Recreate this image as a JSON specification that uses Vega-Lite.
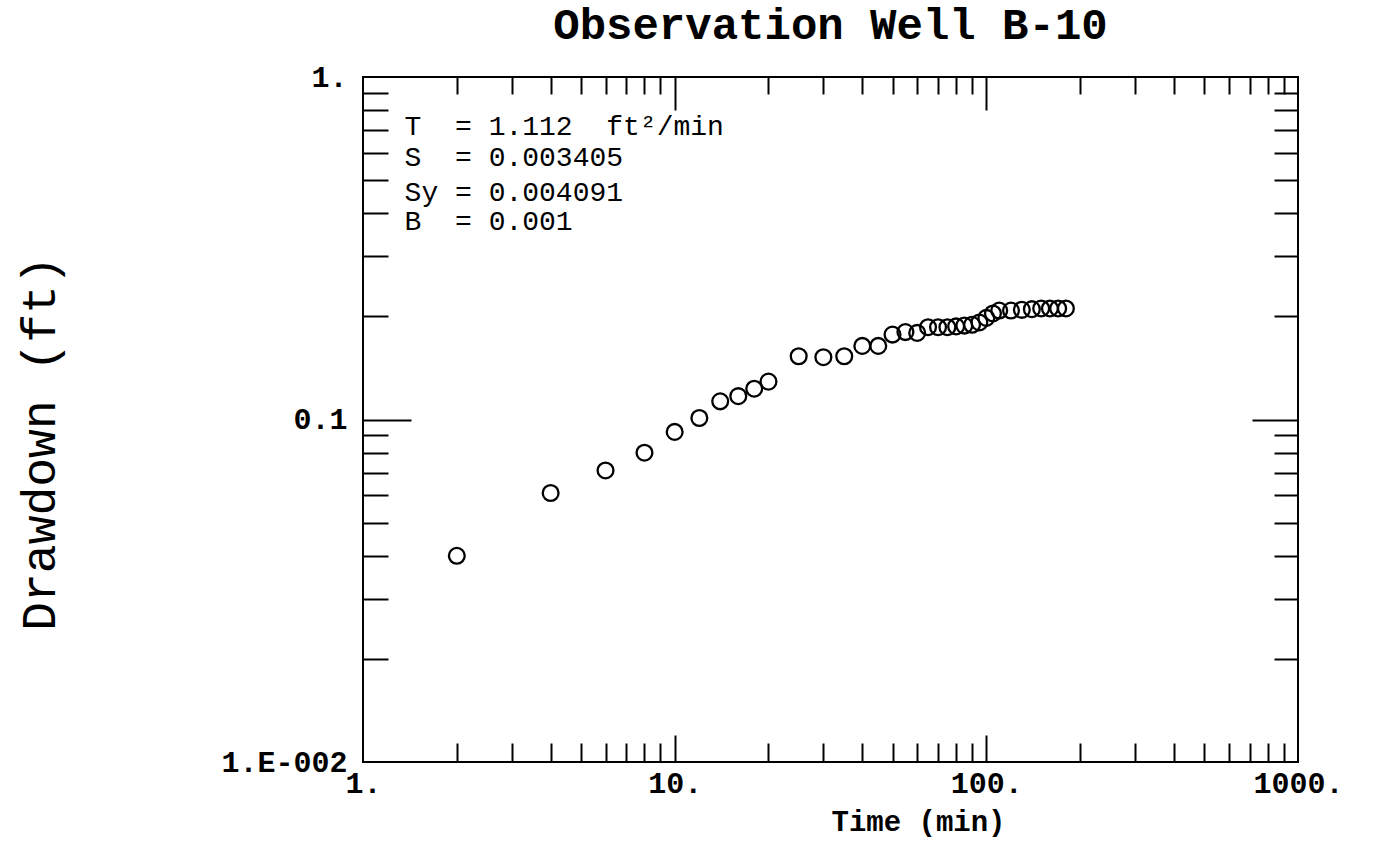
{
  "$schema": "https://vega.github.io/schema/vega-lite/v6.json",
  "width": 935,
  "height": 685,
  "autosize": "none",
  "padding": {"left": 363, "top": 77, "right": 75, "bottom": 93},
  "background": "white",
  "title": {"text": "Observation Well B-10", "font": "Liberation Mono", "fontSize": 44, "fontWeight": "bold", "offset": 14, "color": "black", "anchor": "middle"},
  "config": {
    "view": {"stroke": "black", "strokeWidth": 2},
    "axis": {"domain": false, "grid": false, "tickColor": "black", "tickWidth": 2, "labelColor": "black", "titleColor": "black", "labelFlush": false, "labelOverlap": false}
  },
  "datasets": {
    "obs": [
      {"time": 2, "drawdown": 0.040},
      {"time": 4, "drawdown": 0.061},
      {"time": 6, "drawdown": 0.071},
      {"time": 8, "drawdown": 0.080},
      {"time": 10, "drawdown": 0.092},
      {"time": 12, "drawdown": 0.101},
      {"time": 14, "drawdown": 0.113},
      {"time": 16, "drawdown": 0.117},
      {"time": 18, "drawdown": 0.123},
      {"time": 20, "drawdown": 0.129},
      {"time": 25, "drawdown": 0.153},
      {"time": 30, "drawdown": 0.152},
      {"time": 35, "drawdown": 0.153},
      {"time": 40, "drawdown": 0.164},
      {"time": 45, "drawdown": 0.164},
      {"time": 50, "drawdown": 0.177},
      {"time": 55, "drawdown": 0.180},
      {"time": 60, "drawdown": 0.179},
      {"time": 65, "drawdown": 0.186},
      {"time": 70, "drawdown": 0.186},
      {"time": 75, "drawdown": 0.186},
      {"time": 80, "drawdown": 0.187},
      {"time": 85, "drawdown": 0.188},
      {"time": 90, "drawdown": 0.189},
      {"time": 95, "drawdown": 0.192},
      {"time": 100, "drawdown": 0.198},
      {"time": 105, "drawdown": 0.204},
      {"time": 110, "drawdown": 0.208},
      {"time": 120, "drawdown": 0.208},
      {"time": 130, "drawdown": 0.209},
      {"time": 140, "drawdown": 0.210},
      {"time": 150, "drawdown": 0.211},
      {"time": 160, "drawdown": 0.211},
      {"time": 170, "drawdown": 0.211},
      {"time": 180, "drawdown": 0.211}
    ],
    "params": [
      {"x": 1.36, "y": 0.715, "label": "T\u00a0\u00a0=\u00a01.112\u00a0\u00a0ft²/min"},
      {"x": 1.36, "y": 0.58, "label": "S\u00a0\u00a0=\u00a00.003405"},
      {"x": 1.36, "y": 0.458, "label": "Sy\u00a0=\u00a00.004091"},
      {"x": 1.36, "y": 0.377, "label": "B\u00a0\u00a0=\u00a00.001"}
    ]
  },
  "resolve": {"axis": {"x": "independent", "y": "independent"}},
  "layer": [
    {
      "data": {"name": "obs"},
      "mark": {"type": "point", "shape": "circle", "filled": false, "stroke": "black", "strokeWidth": 2.3, "size": 250, "opacity": 1},
      "encoding": {
        "x": {"field": "time", "type": "quantitative", "scale": {"type": "log", "domain": [1, 1000], "nice": false},
          "axis": {"orient": "bottom", "values": [1, 10, 100, 1000], "ticks": false, "labelExpr": "datum.value + '.'", "labelFont": "Liberation Mono", "labelFontSize": 30, "labelFontWeight": "bold", "labelPadding": 6, "labelAlign": "center",
            "title": "Time (min)", "titleFont": "Liberation Mono", "titleFontSize": 29, "titleFontWeight": "bold", "titleX": 555, "titleY": 59, "titleBaseline": "middle", "titleAlign": "center"}},
        "y": {"field": "drawdown", "type": "quantitative", "scale": {"type": "log", "domain": [0.01, 1], "nice": false},
          "axis": {"orient": "left", "values": [0.01, 0.1, 1], "ticks": false, "labelExpr": "datum.value == 1 ? '1.' : (datum.value == 0.1 ? '0.1' : '1.E-002')", "labelFont": "Liberation Mono", "labelFontSize": 30, "labelFontWeight": "bold", "labelPadding": 16, "labelBaseline": "middle",
            "title": "Drawdown (ft)", "titleFont": "Liberation Mono", "titleFontSize": 48, "titleFontWeight": "normal", "titleX": -323, "titleY": 366, "titleAngle": 270, "titleAlign": "center", "titleBaseline": "middle"}}
      }
    },
    {
      "data": {"name": "obs"},
      "mark": {"type": "point", "opacity": 0},
      "encoding": {
        "x": {"field": "time", "type": "quantitative", "scale": {"type": "log", "domain": [1, 1000], "nice": false},
          "axis": {"orient": "bottom", "values": [2, 3, 4, 5, 6, 7, 8, 9, 20, 30, 40, 50, 60, 70, 80, 90, 200, 300, 400, 500, 600, 700, 800, 900], "labels": false, "tickSize": -19, "title": null}},
        "y": {"field": "drawdown", "type": "quantitative", "scale": {"type": "log", "domain": [0.01, 1], "nice": false},
          "axis": {"orient": "left", "values": [0.02, 0.03, 0.04, 0.05, 0.06, 0.07, 0.08, 0.09, 0.2, 0.3, 0.4, 0.5, 0.6, 0.7, 0.8, 0.9], "labels": false, "tickSize": -25, "title": null}}
      }
    },
    {
      "data": {"name": "obs"},
      "mark": {"type": "point", "opacity": 0},
      "encoding": {
        "x": {"field": "time", "type": "quantitative", "scale": {"type": "log", "domain": [1, 1000], "nice": false},
          "axis": {"orient": "bottom", "values": [10, 100], "labels": false, "tickSize": -27, "title": null}},
        "y": {"field": "drawdown", "type": "quantitative", "scale": {"type": "log", "domain": [0.01, 1], "nice": false},
          "axis": {"orient": "left", "values": [0.1], "labels": false, "tickSize": -48, "title": null}}
      }
    },
    {
      "data": {"name": "obs"},
      "mark": {"type": "point", "opacity": 0},
      "encoding": {
        "x": {"field": "time", "type": "quantitative", "scale": {"type": "log", "domain": [1, 1000], "nice": false},
          "axis": {"orient": "top", "values": [2, 3, 4, 5, 6, 7, 8, 9, 20, 30, 40, 50, 60, 70, 80, 90, 200, 300, 400, 500, 600, 700, 800, 900], "labels": false, "tickSize": -17, "title": null}},
        "y": {"field": "drawdown", "type": "quantitative", "scale": {"type": "log", "domain": [0.01, 1], "nice": false},
          "axis": {"orient": "right", "values": [0.02, 0.03, 0.04, 0.05, 0.06, 0.07, 0.08, 0.09, 0.2, 0.3, 0.4, 0.5, 0.6, 0.7, 0.8, 0.9], "labels": false, "tickSize": -24, "title": null}}
      }
    },
    {
      "data": {"name": "obs"},
      "mark": {"type": "point", "opacity": 0},
      "encoding": {
        "x": {"field": "time", "type": "quantitative", "scale": {"type": "log", "domain": [1, 1000], "nice": false},
          "axis": {"orient": "top", "values": [10, 100], "labels": false, "tickSize": -33, "title": null}},
        "y": {"field": "drawdown", "type": "quantitative", "scale": {"type": "log", "domain": [0.01, 1], "nice": false},
          "axis": {"orient": "right", "values": [0.1], "labels": false, "tickSize": -46, "title": null}}
      }
    },
    {
      "data": {"name": "params"},
      "mark": {"type": "text", "align": "left", "baseline": "middle", "font": "Liberation Mono", "fontSize": 28, "fontWeight": "normal", "color": "black"},
      "encoding": {
        "x": {"field": "x", "type": "quantitative", "scale": {"type": "log", "domain": [1, 1000], "nice": false}, "axis": null},
        "y": {"field": "y", "type": "quantitative", "scale": {"type": "log", "domain": [0.01, 1], "nice": false}, "axis": null},
        "text": {"field": "label"}
      }
    }
  ]
}
